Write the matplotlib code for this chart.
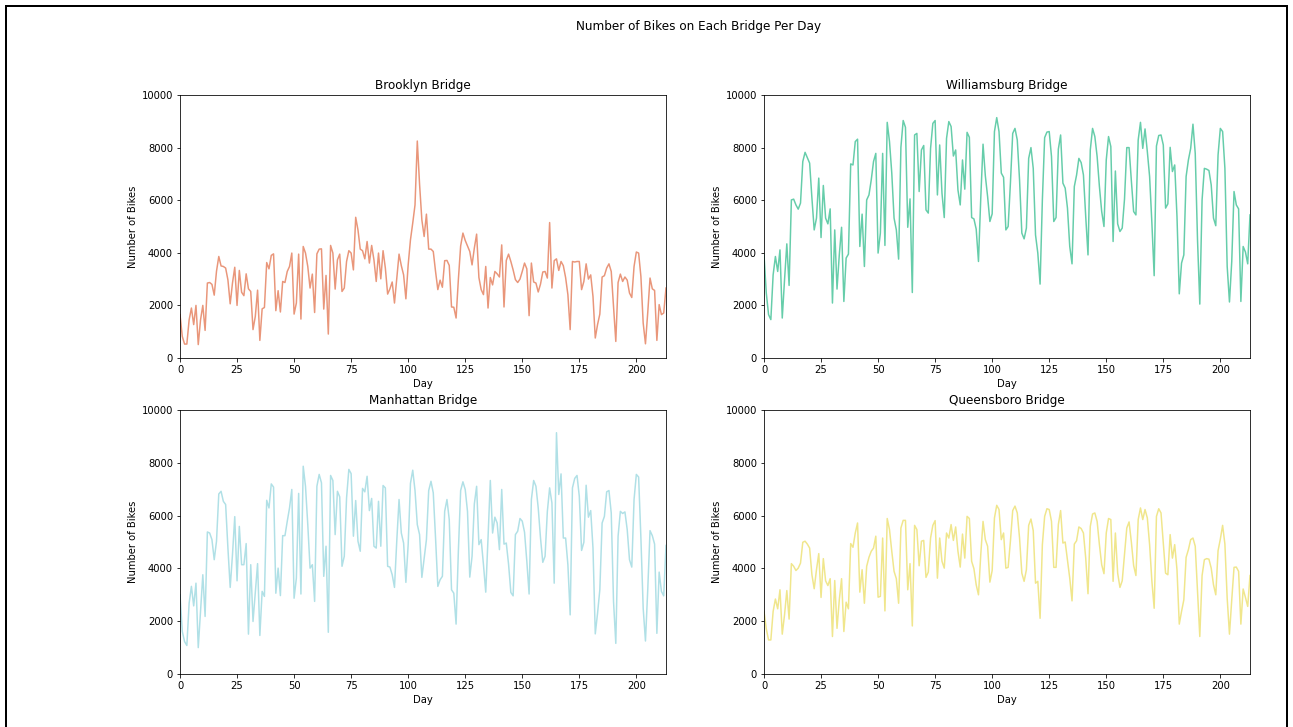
import matplotlib
matplotlib.use("Agg")
import matplotlib.pyplot as plt
from matplotlib.patches import Rectangle
import numpy as np

brooklyn = [
    1650, 820, 530, 530, 1450, 1900, 1270, 2000, 510, 1450,
    2000, 1050, 2850, 2870, 2800, 2390, 3300, 3860, 3500, 3480,
    3420, 2970, 2060, 2850, 3450, 2000, 3330, 2500, 2370, 3200,
    2630, 2530, 1080, 1580, 2580, 670, 1870, 1920, 3630, 3390,
    3900, 3960, 1800, 2560, 1750, 2910, 2870, 3290, 3480, 3990,
    1670, 2090, 3950, 1480, 4240, 3990, 3480, 2660, 3190, 1730,
    3960, 4140, 4150, 1860, 3140, 910, 4280, 3990, 2620, 3730,
    3950, 2530, 2660, 3670, 4080, 3990, 3350, 5350, 4870, 4140,
    4080, 3770, 4430, 3610, 4280, 3730, 2910, 3990, 3010, 4080,
    3420, 2430, 2630, 2890, 2090, 3040, 3950, 3510, 3160, 2250,
    3540, 4490, 5130, 5820, 8250, 6600,
    5250, 4620, 5470, 4140, 4140, 4050, 3290, 2600, 2960, 2690,
    3700, 3710, 3520, 1940, 1930, 1520, 2980, 4260, 4750, 4470,
    4260, 4050, 3540, 4180, 4710, 3060, 2600, 2410, 3480, 1900,
    3060, 2780, 3290, 3200, 3080, 4300, 1940, 3710, 3950, 3670,
    3350, 2980, 2870, 3000, 3290, 3610, 3390, 1610, 3610, 2890,
    2850, 2510, 2810, 3270, 3290, 3040, 5150, 2660, 3700, 3770,
    3330, 3670, 3510, 3060, 2410, 1080, 3670, 3650, 3670, 3670,
    2600, 2910, 3580, 3000, 3160, 2340, 760, 1270, 1670, 3080,
    3130, 3420, 3580, 3290, 1960, 630, 2870, 3190, 2910, 3080,
    2960, 2470, 2300, 3480, 4030, 3990, 3100, 1330, 540, 1730,
    3040, 2630, 2570, 670, 2030, 1650, 1710, 2660,
]

williamsburg = [
    3920, 2470, 1650, 1460, 3160, 3860, 3290, 4110, 1520, 2970,
    4340, 2760, 6010, 6040, 5820, 5660, 5890, 7470, 7820, 7620,
    7410, 6080, 4870, 5320, 6840, 4580, 6560, 5320, 5100, 5670,
    2090, 4870, 2620, 3920, 4970, 2150, 3800, 3950, 7380, 7340,
    8230, 8320, 4240, 5470, 3480, 6010, 6200, 6770, 7470, 7780,
    3990, 4750, 7780, 4280, 8960, 8230, 7030, 5320, 4870, 3760,
    8010, 9030, 8770, 4970, 6050, 2490, 8480, 8540, 6330, 7910,
    8080, 5630, 5510, 7970, 8920, 9030, 6200, 8100, 6270, 5340,
    8350, 8990, 8800, 7680, 7910, 6390, 5820, 7530, 6420, 8580,
    8390, 5340, 5290, 4900, 3670, 6080, 8130, 6930, 6140, 5190,
    5480, 8610, 9140, 8610, 7030, 6870,
    4870, 5000, 6650, 8540, 8730, 8290, 6770, 4750, 4530, 4940,
    7590, 8000, 7210, 4680, 3990, 2810, 6010, 8380, 8590, 8610,
    7660, 5190, 5340, 7940, 8480, 6650, 6460, 5700, 4240, 3580,
    6520, 6960, 7590, 7430, 6960, 5380, 3920, 7910, 8730, 8420,
    7660, 6520, 5570, 5000, 7530, 8420, 8040, 4430, 7110, 5100,
    4810, 4940, 6040, 8000, 8000, 6740, 5570, 5440, 8290, 8960,
    7970, 8710, 7850, 6900, 5130, 3130, 8060, 8460, 8480, 8100,
    5700, 5860, 8010, 7090, 7340, 5380, 2440, 3610, 3920, 6900,
    7530, 7970, 8890, 7780, 4490, 2050, 6010, 7210, 7180, 7130,
    6580, 5320, 5030, 7720, 8730, 8610, 7210, 3480, 2130, 3670,
    6330, 5820, 5670, 2150, 4240, 4030, 3580, 5440,
]

manhattan = [
    3000, 1610, 1230, 1080, 2680, 3320, 2580, 3440, 1000, 2370,
    3760, 2180, 5380, 5340, 5090, 4330, 5030, 6820, 6920, 6540,
    6420, 4770, 3280, 4520, 5960, 3530, 5590, 4140, 4140, 4940,
    1510, 4140, 1990, 3060, 4180, 1460, 3130, 2940, 6580, 6290,
    7200, 7080, 3060, 4010, 2970, 5240, 5240, 5780, 6290, 6990,
    2870, 3630, 6840, 3030, 7870, 7110, 5660, 4010, 4140, 2750,
    7110, 7560, 7240, 3700, 4840, 1580, 7520, 7330, 5280, 6920,
    6710, 4080, 4460, 6670, 7750, 7590, 5220, 6570, 5030, 4650,
    7030, 6900, 7490, 6190, 6650, 4840, 4770, 6540, 4840, 7140,
    7050, 4080, 4050, 3760, 3280, 5030, 6610, 5340, 4960, 3470,
    4900, 7220, 7720, 6950, 5660, 5280,
    3660, 4390, 5090, 6950, 7300, 6860, 5150, 3320, 3570, 3700,
    6160, 6610, 5850, 3190, 3060, 1890, 4650, 6950, 7280, 6990,
    6160, 3670, 4460, 6440, 7110, 4900, 5090, 4140, 3100, 5150,
    7330, 5340, 5940, 5720, 4710, 6990, 4920, 4960, 4160, 3090,
    2960, 5280, 5410, 5890, 5790, 5370, 4270, 3030, 6610, 7330,
    7110, 6290, 5150, 4230, 4460, 6160, 7050, 6480, 3440, 9140,
    6800, 7580, 5150, 5150, 4140, 2240, 7050, 7410, 7520, 6730,
    4680, 4990, 7150, 5940, 6190, 4770, 1520, 2300, 3190, 5720,
    5970, 6900, 6950, 6100, 2750, 1160, 5220, 6160, 6080, 6140,
    5470, 4330, 4050, 6610, 7560, 7460, 5150, 2490, 1250, 3190,
    5430, 5240, 4920, 1540, 3860, 3130, 2960, 4870,
]

queensboro = [
    2370, 1710, 1290, 1290, 2370, 2840, 2470, 3190, 1510, 2240,
    3160, 2080, 4180, 4080, 3920, 4010, 4200, 4990, 5030, 4920,
    4770, 3760, 3230, 3950, 4560, 2900, 4370, 3530, 3350, 3610,
    1420, 3540, 1730, 2810, 3610, 1610, 2720, 2470, 4940, 4800,
    5340, 5720, 3100, 3950, 2680, 4080, 4420, 4650, 4770, 5220,
    2910, 2940, 5150, 2390, 5890, 5470, 4650, 3890, 3610, 2680,
    5530, 5820, 5820, 3190, 4180, 1820, 5630, 5470, 4100, 5030,
    5060, 3660, 3860, 5150, 5630, 5810, 3630, 5150, 4270, 4010,
    5340, 5150, 5660, 5060, 5570, 4650, 4050, 5300, 4390, 5970,
    5890, 4270, 3990, 3380, 3000, 4520, 5780, 5090, 4840, 3480,
    3920, 5910, 6390, 6230, 5090, 5340,
    4010, 4040, 5030, 6190, 6360, 6100, 5150, 3820, 3510, 3950,
    5630, 5870, 5430, 3440, 3510, 2110, 4900, 5970, 6260, 6230,
    5780, 4040, 4040, 5660, 6190, 4960, 5000, 4330, 3630, 2770,
    4920, 5050, 5570, 5510, 5340, 4390, 3040, 5590, 6060, 6100,
    5780, 4900, 4140, 3800, 5340, 5890, 5850, 3510, 5340, 3820,
    3280, 3530, 4520, 5530, 5760, 5000, 4110, 3730, 5850, 6290,
    5850, 6230, 5910, 4900, 3510, 2490, 5970, 6260, 6100, 4960,
    3820, 3760, 5280, 4390, 4900, 3950, 1890, 2370, 2810, 4420,
    4710, 5090, 5150, 4840, 3130, 1420, 3730, 4330, 4370, 4350,
    4010, 3380, 3000, 4670, 5110, 5630, 4920, 2870, 1510, 2810,
    4040, 4050, 3890, 1890, 3220, 2900, 2560, 3730,
]

titles = ["Brooklyn Bridge", "Williamsburg Bridge", "Manhattan Bridge", "Queensboro Bridge"]
colors = ["darksalmon", "mediumaquamarine", "powderblue", "khaki"]
series = [brooklyn, williamsburg, manhattan, queensboro]
yticks = [0, 2000, 4000, 6000, 8000, 10000]
xticks = [0, 25, 50, 75, 100, 125, 150, 175, 200]

W, H = 1293, 727
fig = plt.figure(figsize=(W / 72, H / 72), dpi=72)

# axes boxes in pixels: (left, top, right, bottom)
boxes = [
    (180, 95, 666, 358),
    (764, 95, 1250, 358),
    (180, 410, 666, 674),
    (764, 410, 1250, 674),
]

for (l, t, r, b), title, color, vals in zip(boxes, titles, colors, series):
    ax = fig.add_axes([l / W, 1 - b / H, (r - l) / W, (b - t) / H])
    days = np.arange(len(vals))
    ax.plot(days, vals, color=color, linewidth=1.5)
    ax.set_xlim(0, len(vals) - 1)
    ax.set_ylim(0, 10000)
    ax.set_yticks(yticks)
    ax.set_xticks(xticks)
    ax.set_title(title)
    ax.set_xlabel("Day")
    ax.set_ylabel("Number of Bikes")

fig.suptitle("Number of Bikes on Each Bridge Per Day", x=0.54, y=1 - 20 / H)

fig.patches.append(Rectangle((5.5 / W, -0.05), (1287 - 5.5) / W, 1.05 - 5.5 / H,
                             transform=fig.transFigure, fill=False,
                             edgecolor="black", linewidth=2, clip_on=False))

fig.savefig("out.png", dpi=72)
